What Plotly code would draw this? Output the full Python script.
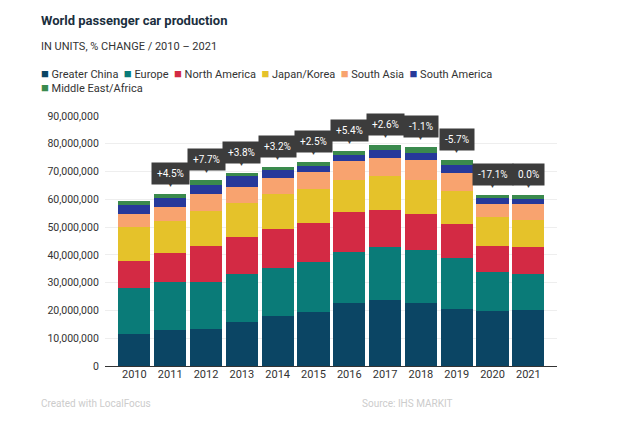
import plotly.graph_objects as go

years = ['2010', '2011', '2012', '2013', '2014', '2015',
         '2016', '2017', '2018', '2019', '2020', '2021']

# production per region, millions of units
greater_china = [11.4, 12.8, 13.5, 15.9, 17.9, 19.4, 22.8, 23.6, 22.8, 20.6, 19.8, 20.1]
europe = [16.8, 17.4, 16.8, 17.3, 17.4, 18.0, 18.3, 19.4, 19.0, 18.3, 13.9, 13.2]
north_america = [9.6, 10.5, 12.8, 13.2, 14.0, 14.1, 14.3, 13.2, 13.0, 12.3, 9.6, 9.6]
japan_korea = [12.1, 11.4, 12.6, 12.2, 12.7, 12.3, 11.7, 12.1, 12.1, 11.8, 10.3, 9.6]
south_asia = [4.9, 5.1, 6.1, 5.9, 5.7, 6.0, 6.7, 6.7, 7.2, 6.4, 4.7, 5.8]
south_america = [3.1, 3.3, 3.3, 3.8, 2.9, 2.2, 2.0, 2.7, 2.5, 2.8, 2.1, 1.9]
middle_east_africa = [1.6, 1.6, 2.0, 1.2, 1.1, 1.5, 1.6, 2.0, 2.1, 1.8, 1.0, 1.2]

pct_change = ['', '+4.5%', '+7.7%', '+3.8%', '+3.2%', '+2.5%',
              '+5.4%', '+2.6%', '-1.1%', '-5.7%', '-17.1%', '0.0%']

series = [
    ('Greater China', greater_china, '#0b4564'),
    ('Europe', europe, '#0a7b78'),
    ('North America', north_america, '#d32a44'),
    ('Japan/Korea', japan_korea, '#e5c22a'),
    ('South Asia', south_asia, '#f8a36f'),
    ('South America', south_america, '#26399a'),
    ('Middle East/Africa', middle_east_africa, '#3a8a4d'),
]

FONT = 'Roboto'

fig = go.Figure()
for name, vals, col in series:
    fig.add_trace(go.Bar(
        x=years, y=[v * 1e6 for v in vals], name=name,
        marker=dict(color=col, line=dict(width=0)),
        hovertemplate='%{x}<br>' + name + ': %{y:,.0f}<extra></extra>',
    ))

totals = [sum(s[1][i] for s in series) * 1e6 for i in range(len(years))]

# % change callouts above the bars
for i, (tot, lab) in enumerate(zip(totals, pct_change)):
    if not lab:
        continue
    fig.add_annotation(
        xref='x', yref='y', x=i, y=tot, text=lab, showarrow=False,
        yanchor='bottom', yshift=9,
        bgcolor='#3c3c3c', borderpad=5, font=dict(color='white', size=10, family=FONT),
    )
    fig.add_annotation(
        xref='x', yref='y', x=i, y=tot, text='▼', showarrow=False,
        yanchor='bottom', yshift=3,
        font=dict(color='#3c3c3c', size=7),
    )

# legend drawn as text rows so it flows like the original
def legend_row(items):
    parts = []
    for name, _, col in items:
        parts.append(f'<span style="color:{col};font-size:13px">■</span> {name}')
    return '  '.join(parts)

fig.add_annotation(xref='paper', yref='paper', x=-0.146, y=1.172, xanchor='left', yanchor='middle',
                   text=legend_row(series[:6]), showarrow=False,
                   font=dict(size=11, color='#333333', family=FONT))
fig.add_annotation(xref='paper', yref='paper', x=-0.146, y=1.112, xanchor='left', yanchor='middle',
                   text=legend_row(series[6:]), showarrow=False,
                   font=dict(size=11, color='#333333', family=FONT))

fig.add_annotation(xref='paper', yref='paper', x=-0.146, y=1.384, xanchor='left', yanchor='middle',
                   text='<b>World passenger car production</b>', showarrow=False,
                   font=dict(size=13, color='#1b2f3e', family=FONT))
fig.add_annotation(xref='paper', yref='paper', x=-0.146, y=1.28, xanchor='left', yanchor='middle',
                   text='IN UNITS, % CHANGE / 2010 – 2021', showarrow=False,
                   font=dict(size=11, color='#333333', family=FONT))
fig.add_annotation(xref='paper', yref='paper', x=-0.146, y=-0.148, xanchor='left', yanchor='middle',
                   text='Created with LocalFocus', showarrow=False,
                   font=dict(size=10, color='#cccccc', family=FONT))
fig.add_annotation(xref='paper', yref='paper', x=0.774, y=-0.148, xanchor='right', yanchor='middle',
                   text='Source: IHS MARKIT', showarrow=False,
                   font=dict(size=10, color='#cccccc', family=FONT))

fig.update_layout(
    width=632, height=418,
    barmode='stack', bargap=0.1,
    plot_bgcolor='white', paper_bgcolor='white',
    margin=dict(l=97, r=83, t=108, b=60),
    font=dict(family=FONT, size=11, color='#333333'),
    showlegend=False,
    xaxis=dict(type='category', range=[-0.82, 11.8], showgrid=False, ticks='', showline=False,
               tickfont=dict(size=11, color='#333333')),
    yaxis=dict(range=[0, 90e6], dtick=10e6, tickformat=',d', showgrid=True,
               gridcolor='#eeeeee', zeroline=True, zerolinecolor='#333333', zerolinewidth=1,
               ticks='', ticksuffix='  ', tickfont=dict(size=10.5, color='#333333')),
)

fig.write_html('out.html')
